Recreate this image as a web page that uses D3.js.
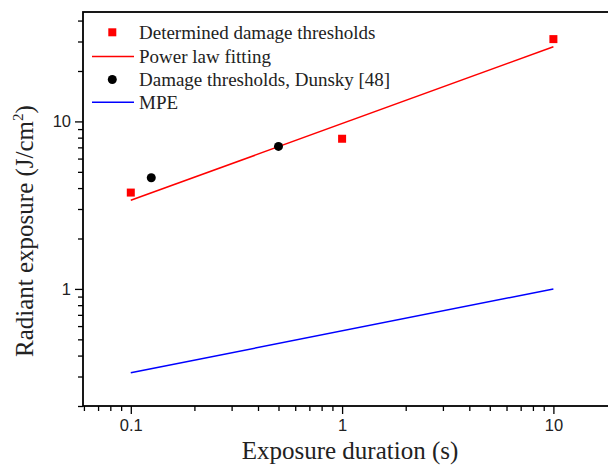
<!DOCTYPE html>
<html><head><meta charset="utf-8">
<script src="https://cdn.jsdelivr.net/npm/d3@7"></script>
<style>
html,body{margin:0;padding:0;background:#fff;}
svg{display:block;}
</style></head>
<body>
<svg id="chart" width="608" height="465"></svg>
<script>
// ---- data ----
const measuredX = [0.1, 1, 10];
const measuredY = [3.76, 7.88, 31.0];
const fitX = [0.1, 10];
const fitY = [3.38, 27.9];
const dunskyX = [0.125, 0.5];
const dunskyY = [4.61, 7.09];
const mpeX = [0.1, 10];
const mpeY = [0.316, 1.0];
const xTickValues = [0.1, 1, 10];
const xTickLabels = ["0.1", "1", "10"];
const yTickValues = [1, 10];
const yTickLabels = ["1", "10"];
const legendLabels = ["Determined damage thresholds", "Power law fitting", "Damage thresholds, Dunsky [48]", "MPE"];

const svg = d3.select("#chart");
const L = 83, R = 617, T = 12, B = 406;
const x = d3.scaleLog().domain([0.0594, 20]).range([L, R]);
const y = d3.scaleLog().domain([0.2, 45]).range([B, T]);

const serif = "'Liberation Serif','Times New Roman',serif";
const sans = "'Liberation Sans',Arial,sans-serif";

// minor ticks
function minorTicks(scale) {
  const [a, b] = scale.domain();
  const out = [];
  for (let e = Math.floor(Math.log10(a)); e <= Math.ceil(Math.log10(b)); e++) {
    for (let m = 1; m <= 9; m++) {
      const v = m * Math.pow(10, e);
      if (v >= a * 0.999 && v <= b * 1.001) out.push(v);
    }
  }
  return out;
}

const xMinor = minorTicks(x).filter(v => !xTickValues.some(t => Math.abs(t - v) / t < 1e-6));
const yMinor = minorTicks(y).filter(v => !yTickValues.some(t => Math.abs(t - v) / t < 1e-6));

// x axis
const gx = svg.append("g").attr("transform", `translate(0,${B})`);
gx.call(d3.axisBottom(x).tickValues(xMinor).tickSize(5).tickFormat(""));
gx.append("g").call(d3.axisBottom(x).tickValues(xTickValues).tickSize(8).tickPadding(5)
  .tickFormat((d, i) => xTickLabels[i]));
gx.selectAll(".domain").remove();
gx.selectAll("line").attr("stroke", "#000").attr("stroke-width", 1.3);
gx.selectAll("text").attr("font-family", sans).attr("font-size", 16.5).attr("fill", "#222");

// y axis
const gy = svg.append("g").attr("transform", `translate(${L},0)`);
gy.call(d3.axisLeft(y).tickValues(yMinor).tickSize(5).tickFormat(""));
gy.append("g").call(d3.axisLeft(y).tickValues(yTickValues).tickSize(8).tickPadding(4)
  .tickFormat((d, i) => yTickLabels[i]));
gy.selectAll(".domain").remove();
gy.selectAll("line").attr("stroke", "#000").attr("stroke-width", 1.3);
gy.selectAll("text").attr("font-family", sans).attr("font-size", 16.5).attr("fill", "#222");

// frame
svg.append("rect").attr("x", L).attr("y", T).attr("width", R - L).attr("height", B - T)
  .attr("fill", "none").attr("stroke", "#000").attr("stroke-width", 1.8);

// lines
const line = d3.line().x(d => x(d[0])).y(d => y(d[1]));
svg.append("path").datum(fitX.map((v, i) => [v, fitY[i]])).attr("d", line)
  .attr("fill", "none").attr("stroke", "#ff0000").attr("stroke-width", 1.5);
svg.append("path").datum(mpeX.map((v, i) => [v, mpeY[i]])).attr("d", line)
  .attr("fill", "none").attr("stroke", "#0000ff").attr("stroke-width", 1.5);

// points
const sq = 8;
svg.selectAll(".meas").data(measuredX.map((v, i) => [v, measuredY[i]])).enter()
  .append("rect").attr("x", d => x(d[0]) - sq / 2).attr("y", d => y(d[1]) - sq / 2)
  .attr("width", sq).attr("height", sq).attr("fill", "#ff0000");
svg.selectAll(".dun").data(dunskyX.map((v, i) => [v, dunskyY[i]])).enter()
  .append("circle").attr("cx", d => x(d[0])).attr("cy", d => y(d[1])).attr("r", 4.5).attr("fill", "#000");

// legend
const legY = [32.3, 56.5, 79.5, 102.3];
const lg = svg.append("g");
lg.append("rect").attr("x", 112.3 - 4).attr("y", legY[0] - 4).attr("width", 8).attr("height", 8).attr("fill", "#ff0000");
lg.append("line").attr("x1", 92).attr("x2", 134).attr("y1", legY[1]).attr("y2", legY[1]).attr("stroke", "#ff0000").attr("stroke-width", 1.5);
lg.append("circle").attr("cx", 112.3).attr("cy", legY[2]).attr("r", 4.5).attr("fill", "#000");
lg.append("line").attr("x1", 92).attr("x2", 134).attr("y1", legY[3]).attr("y2", legY[3]).attr("stroke", "#0000ff").attr("stroke-width", 1.5);
legendLabels.forEach((t, i) => {
  lg.append("text").attr("x", 139).attr("y", legY[i] + 6.5).text(t)
    .attr("font-family", serif).attr("font-size", 19).attr("fill", "#222");
});

// axis titles
svg.append("text").attr("x", (L + R) / 2).attr("y", 459).attr("text-anchor", "middle")
  .attr("font-family", serif).attr("font-size", 25).attr("fill", "#222").text("Exposure duration (s)");
const yt = svg.append("text").attr("transform", `translate(33,357) rotate(-90)`)
  .attr("text-anchor", "start").attr("font-family", serif).attr("font-size", 25).attr("fill", "#222");
yt.append("tspan").text("Radiant exposure (J/cm");
yt.append("tspan").attr("font-size", 15).attr("dy", -10).text("2");
yt.append("tspan").attr("dy", 10).text(")");
</script>
</body></html>
